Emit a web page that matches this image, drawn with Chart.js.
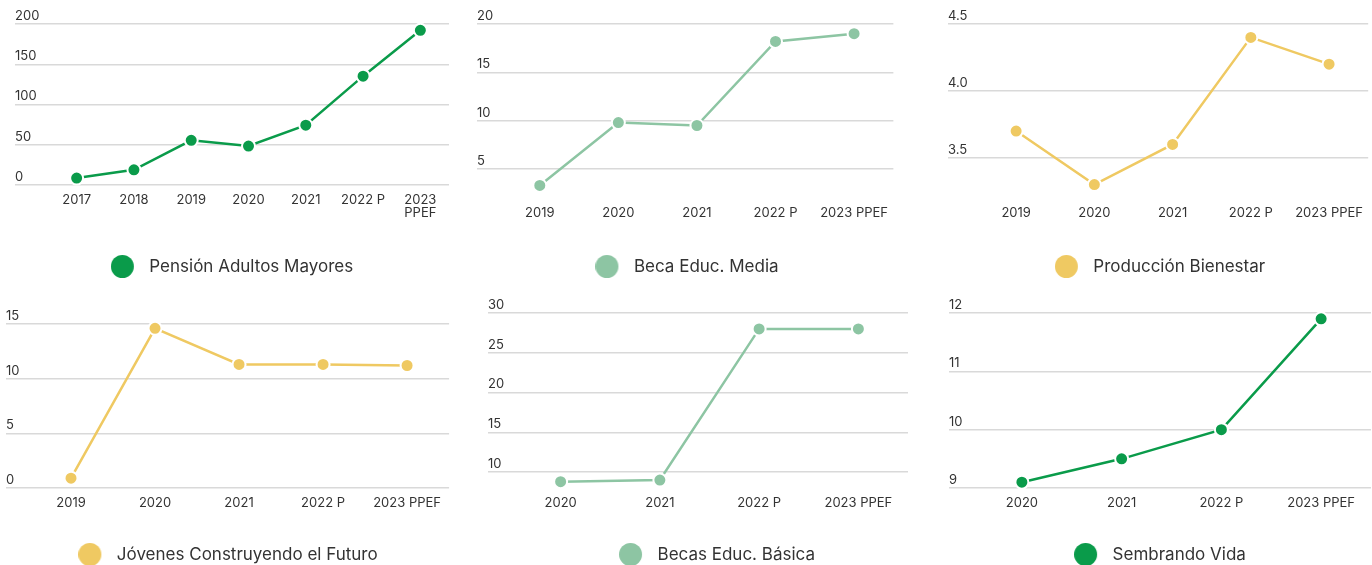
<!DOCTYPE html>
<html>
<head>
<meta charset="utf-8">
<script src="https://cdn.jsdelivr.net/npm/chart.js@4/dist/chart.umd.min.js"></script>
<style>
  html, body { margin: 0; padding: 0; background: #fff; overflow: hidden; }
  body { width: 1372px; height: 565px; position: relative; }
  .box { position: absolute; }
</style>
</head>
<body>
<div class="box" id="b1"><canvas id="c1"></canvas></div>
<div class="box" id="b2"><canvas id="c2"></canvas></div>
<div class="box" id="b3"><canvas id="c3"></canvas></div>
<div class="box" id="b4"><canvas id="c4"></canvas></div>
<div class="box" id="b5"><canvas id="c5"></canvas></div>
<div class="box" id="b6"><canvas id="c6"></canvas></div>
<script>
// data (miles de millones de pesos)
const pensionYears = ['2017', '2018', '2019', '2020', '2021', '2022 P', ['2023', 'PPEF']];
const pensionValues = [8.6, 18.9, 55.5, 48.4, 74.3, 135.2, 192.2];
const pensionTicks = [0, 200, 50];

const mediaYears = ['2019', '2020', '2021', '2022 P', '2023 PPEF'];
const mediaValues = [3.3, 9.8, 9.5, 18.2, 19.0];
const mediaTicks = [2, 20, 5];

const produccionYears = ['2019', '2020', '2021', '2022 P', '2023 PPEF'];
const produccionValues = [3.7, 3.3, 3.6, 4.4, 4.2];
const produccionTicks = [3.2, 4.5, 0.5];

const jovenesYears = ['2019', '2020', '2021', '2022 P', '2023 PPEF'];
const jovenesValues = [0.9, 14.6, 11.3, 11.3, 11.2];
const jovenesTicks = [0, 16, 5];

const basicaYears = ['2020', '2021', '2022 P', '2023 PPEF'];
const basicaValues = [8.8, 9.0, 28.0, 28.0];
const basicaTicks = [8, 30, 5];

const sembrandoYears = ['2020', '2021', '2022 P', '2023 PPEF'];
const sembrandoValues = [9.1, 9.5, 10.0, 11.9];
const sembrandoTicks = [9, 12, 1];

const GREEN = '#0a9b4a';
const MINT = '#8dc5a3';
const YELLOW = '#efc962';
const FONT = 'Inter, "Noto Sans", sans-serif';

// legend marker: round dot with some blank space on its right
function dot(color) {
  const c = document.createElement('canvas');
  c.width = 30;
  c.height = 23;
  const g = c.getContext('2d');
  g.fillStyle = color;
  g.beginPath();
  g.arc(11.5, 11.5, 11.5, 0, Math.PI * 2);
  g.fill();
  return c;
}

function place(id, left, top, width, height) {
  const el = document.getElementById(id);
  el.style.left = left + 'px';
  el.style.top = top + 'px';
  el.style.width = width + 'px';
  el.style.height = height + 'px';
}

function makeChart(canvasId, cfg) {
  const scales = {
    x: {
      offset: true,
      grid: { display: false, drawTicks: false },
      border: { display: false },
      ticks: {
        color: '#333',
        padding: 9,
        maxRotation: 0,
        autoSkip: false,
        font: { family: FONT, size: 13, lineHeight: 1 },
      },
      afterFit: (s) => { s.height = cfg.xHeight; },
    },
    y: {
      min: cfg.ticks[0],
      max: cfg.ticks[1],
      grid: { color: '#d9d9d9', lineWidth: 1.5, tickLength: cfg.yWidth, drawTicks: true },
      border: { display: false },
      ticks: {
        stepSize: cfg.ticks[2],
        includeBounds: false,
        crossAlign: 'far',
        labelOffset: -8,
        color: '#333',
        font: { family: FONT, size: 13 },
        callback: (v) => (cfg.decimals ? Number(v).toFixed(cfg.decimals) : v),
      },
      afterFit: (s) => { s.width = cfg.yWidth; },
    },
  };
  if (cfg.rightPad) {
    scales.pad = {
      type: 'linear',
      position: 'right',
      grid: { display: false },
      border: { display: false },
      ticks: { display: false },
      afterFit: (s) => { s.width = cfg.rightPad; },
    };
  }

  return new Chart(document.getElementById(canvasId), {
    type: 'line',
    data: {
      labels: cfg.labels,
      datasets: [
        {
          label: cfg.name,
          data: cfg.values,
          borderColor: cfg.color,
          backgroundColor: cfg.color,
          borderWidth: 2.5,
          pointRadius: 6.5,
          pointBorderWidth: 2,
          pointBorderColor: '#fff',
          pointBackgroundColor: cfg.color,
          tension: 0,
          clip: false,
        },
      ],
    },
    options: {
      responsive: true,
      maintainAspectRatio: false,
      animation: false,
      layout: { autoPadding: false, padding: { top: cfg.top, left: 0, right: 0, bottom: 0 } },
      scales,
      plugins: {
        tooltip: { enabled: false },
        legend: {
          position: 'bottom',
          labels: {
            usePointStyle: true,
            pointStyle: dot(cfg.color),
            pointStyleWidth: 30,
            color: '#333',
            padding: 10,
            font: { family: FONT, size: 17 },
          },
        },
      },
    },
  });
}

place('b1', 15, 0, 434, 285);
place('b2', 477, 0, 420, 285);
place('b3', 948, 0, 424, 285);
place('b4', 6, 289, 444, 284);
place('b5', 488, 289, 458, 284);
place('b6', 949, 289, 422, 284);

makeChart('c1', { name: 'Pensión Adultos Mayores', labels: pensionYears, values: pensionValues, ticks: pensionTicks, color: GREEN, yWidth: 33, xHeight: 63, top: 24 });
makeChart('c2', { name: 'Beca Educ. Media', labels: mediaYears, values: mediaValues, ticks: mediaTicks, color: MINT, yWidth: 23.5, xHeight: 50, top: 24 });
makeChart('c3', { name: 'Producción Bienestar', labels: produccionYears, values: produccionValues, ticks: produccionTicks, color: YELLOW, yWidth: 29, xHeight: 50, top: 24, decimals: 1 });
makeChart('c4', { name: 'Jóvenes Construyendo el Futuro', labels: jovenesYears, values: jovenesValues, ticks: jovenesTicks, color: YELLOW, yWidth: 23, xHeight: 48, top: 24 });
makeChart('c5', { name: 'Becas Educ. Básica', labels: basicaYears, values: basicaValues, ticks: basicaTicks, color: MINT, yWidth: 23, xHeight: 48, top: 24, rightPad: 38 });
makeChart('c6', { name: 'Sembrando Vida', labels: sembrandoYears, values: sembrandoValues, ticks: sembrandoTicks, color: GREEN, yWidth: 23, xHeight: 48, top: 24 });
</script>
</body>
</html>
